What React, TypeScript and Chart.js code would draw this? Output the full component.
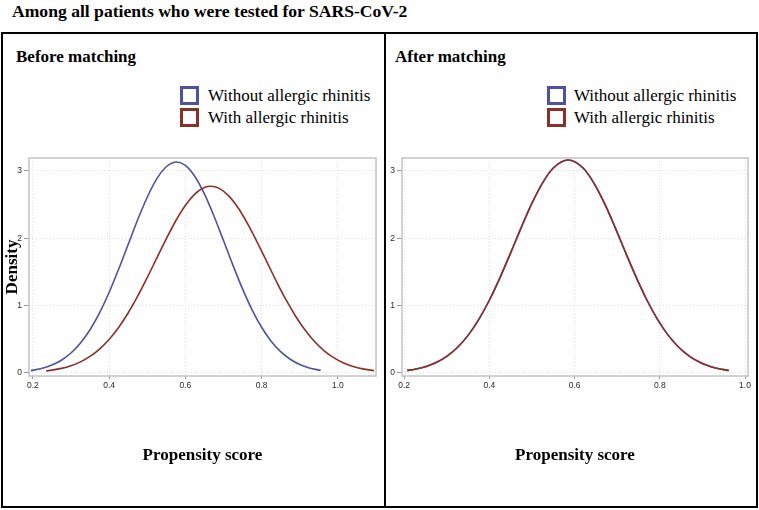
import React, { useEffect, useRef } from "react";
import { Chart, registerables } from "chart.js";

Chart.register(...registerables);

// ---- Data ----
const chartTitle = "Among all patients who were tested for SARS-CoV-2";
const panelTitles = ["Before matching", "After matching"];
const seriesLabels = ["Without allergic rhinitis", "With allergic rhinitis"];
const xAxisTitle = "Propensity score";
const yAxisTitle = "Density";

const xTicks = [0.2, 0.4, 0.6, 0.8, 1.0];
const yTicks = [0, 1, 2, 3];

// Before matching: without allergic rhinitis
const beforeWithoutX = [
  0.195, 0.225, 0.25, 0.275, 0.3, 0.325, 0.35, 0.375, 0.4, 0.425, 0.45, 0.475, 0.5, 0.525, 0.55,
  0.577, 0.6, 0.625, 0.65, 0.675, 0.7, 0.725, 0.75, 0.775, 0.8, 0.825, 0.85, 0.875, 0.9, 0.925, 0.955,
];
const beforeWithoutY = [
  0.035, 0.069, 0.117, 0.189, 0.296, 0.444, 0.641, 0.892, 1.194, 1.538, 1.906, 2.273, 2.608, 2.88, 3.06,
  3.13, 3.08, 2.916, 2.657, 2.329, 1.965, 1.596, 1.247, 0.937, 0.678, 0.472, 0.316, 0.204, 0.126, 0.075, 0.039,
];

// Before matching: with allergic rhinitis
const beforeWithX = [
  0.235, 0.25, 0.275, 0.3, 0.325, 0.35, 0.375, 0.4, 0.425, 0.45, 0.475, 0.5, 0.525, 0.55, 0.575, 0.6,
  0.625, 0.65, 0.667, 0.69, 0.715, 0.74, 0.765, 0.79, 0.815, 0.84, 0.865, 0.89, 0.915, 0.94, 0.965,
  0.99, 1.015, 1.04, 1.065, 1.095,
];
const beforeWithY = [
  0.031, 0.042, 0.068, 0.108, 0.165, 0.246, 0.355, 0.497, 0.675, 0.89, 1.139, 1.414, 1.704, 1.991, 2.259, 2.486,
  2.655, 2.751, 2.77, 2.735, 2.62, 2.436, 2.197, 1.923, 1.634, 1.346, 1.076, 0.835, 0.629, 0.459, 0.325,
  0.224, 0.149, 0.097, 0.061, 0.033,
];

// After matching (both groups overlap)
const afterX = [
  0.207, 0.225, 0.25, 0.275, 0.3, 0.325, 0.35, 0.375, 0.4, 0.425, 0.45, 0.475, 0.5, 0.525, 0.55, 0.585,
  0.62, 0.645, 0.67, 0.695, 0.72, 0.745, 0.77, 0.795, 0.82, 0.845, 0.87, 0.895, 0.92, 0.945, 0.962,
];
const afterWithoutY = [
  0.036, 0.054, 0.093, 0.155, 0.247, 0.378, 0.558, 0.792, 1.079, 1.415, 1.783, 2.161, 2.519, 2.822, 3.041, 3.16,
  3.041, 2.822, 2.519, 2.161, 1.783, 1.415, 1.079, 0.792, 0.558, 0.378, 0.247, 0.155, 0.093, 0.054, 0.036,
];
const afterWithY = [
  0.036, 0.054, 0.093, 0.155, 0.247, 0.378, 0.558, 0.792, 1.079, 1.415, 1.783, 2.161, 2.519, 2.822, 3.041, 3.16,
  3.041, 2.822, 2.519, 2.161, 1.783, 1.415, 1.079, 0.792, 0.558, 0.378, 0.247, 0.155, 0.093, 0.054, 0.036,
];

// ---- Styles ----
const BLUE = "#4e52a1";
const RED = "#8b3028";
const SERIF = '"Liberation Serif", "Times New Roman", serif';
const SANS = '"Liberation Sans", Arial, sans-serif';

const framePlugin = {
  id: "frameBox",
  beforeDatasetsDraw(chart: any) {
    const { ctx, chartArea: a } = chart;
    ctx.save();
    ctx.strokeStyle = "#c4c4c4";
    ctx.lineWidth = 1.5;
    ctx.strokeRect(a.left, a.top, a.right - a.left, a.bottom - a.top);
    ctx.restore();
  },
};

type PanelProps = {
  left: number;
  top: number;
  width: number;
  height: number;
  yAxisWidth: number;
  padRight: number;
  padTop: number;
  xAxisHeight: number;
  showYTitle: boolean;
  xMin: number;
  xMax: number;
  withoutX: number[];
  withoutY: number[];
  withX: number[];
  withY: number[];
};

function toPoints(xs: number[], ys: number[]) {
  return xs.map((x, i) => ({ x, y: ys[i] }));
}

function Panel(p: PanelProps) {
  const ref = useRef<HTMLCanvasElement>(null);
  useEffect(() => {
    if (!ref.current) return;
    const chart = new Chart(ref.current, {
      type: "line",
      data: {
        datasets: [
          {
            label: seriesLabels[0],
            data: toPoints(p.withoutX, p.withoutY),
            borderColor: BLUE,
            borderWidth: 1.6,
            pointRadius: 0,
            fill: false,
            cubicInterpolationMode: "monotone",
            order: 2,
          },
          {
            label: seriesLabels[1],
            data: toPoints(p.withX, p.withY),
            borderColor: RED,
            borderWidth: 1.6,
            pointRadius: 0,
            fill: false,
            cubicInterpolationMode: "monotone",
            order: 1,
          },
        ],
      },
      options: {
        responsive: false,
        animation: false,
        devicePixelRatio: 1,
        layout: { padding: { left: 0, right: p.padRight, top: p.padTop, bottom: 0 } },
        plugins: { legend: { display: false }, tooltip: { enabled: false }, title: { display: false } },
        scales: {
          x: {
            type: "linear",
            min: p.xMin,
            max: p.xMax,
            afterBuildTicks: (s: any) => {
              s.ticks = xTicks.map((v) => ({ value: v }));
            },
            afterFit: (s: any) => {
              s.height = p.xAxisHeight;
            },
            ticks: {
              autoSkip: false,
              maxRotation: 0,
              padding: 2,
              color: "#2a2a2a",
              font: { family: SANS, size: 8.5 },
              callback: (v: any) => Number(v).toFixed(1),
            },
            grid: { color: "#e2e2e2", tickColor: "#999", tickLength: 3, lineWidth: 1 },
            border: { display: false, dash: [1, 2] },
            title: {
              display: true,
              text: xAxisTitle,
              color: "#000",
              font: { family: SERIF, size: 17, weight: "bold", lineHeight: 1 },
              padding: { top: 0, bottom: 15.5 },
            },
          },
          y: {
            type: "linear",
            min: -0.045,
            max: 3.19,
            afterBuildTicks: (s: any) => {
              s.ticks = yTicks.map((v) => ({ value: v }));
            },
            afterFit: (s: any) => {
              s.width = p.yAxisWidth;
            },
            ticks: {
              autoSkip: false,
              padding: 2,
              color: "#2a2a2a",
              font: { family: SANS, size: 8.5 },
              callback: (v: any) => String(v),
            },
            grid: { color: "#e2e2e2", tickColor: "#999", tickLength: 5, lineWidth: 1 },
            border: { display: false, dash: [1, 2] },
            title: {
              display: p.showYTitle,
              text: yAxisTitle,
              color: "#000",
              font: { family: SERIF, size: 17, weight: "bold", lineHeight: 1 },
              padding: { top: 2, bottom: 0 },
            },
          },
        },
      } as any,
      plugins: [framePlugin],
    });
    return () => chart.destroy();
  }, []);
  return (
    <canvas
      ref={ref}
      width={p.width}
      height={p.height}
      style={{ position: "absolute", left: p.left, top: p.top, width: p.width, height: p.height }}
    />
  );
}

function Legend({ squareLeft, textLeft }: { squareLeft: number; textLeft: number }) {
  const colors = [BLUE, RED];
  const tops = [86, 108];
  return (
    <>
      {seriesLabels.map((lab, i) => (
        <React.Fragment key={lab}>
          <div
            style={{
              position: "absolute",
              left: squareLeft,
              top: tops[i],
              width: 19,
              height: 19,
              boxSizing: "border-box",
              border: `3px solid ${colors[i]}`,
            }}
          />
          <div
            style={{
              position: "absolute",
              left: textLeft,
              top: tops[i] + 1,
              fontFamily: SERIF,
              fontSize: 17,
              lineHeight: "17px",
              whiteSpace: "nowrap",
              color: "#000",
            }}
          >
            {lab}
          </div>
        </React.Fragment>
      ))}
    </>
  );
}

export default function App() {
  return (
    <div
      style={{
        position: "absolute",
        left: 0,
        top: 0,
        width: 759,
        height: 510,
        background: "#fff",
        overflow: "hidden",
        fontFamily: SERIF,
      }}
    >
      <div
        style={{
          position: "absolute",
          left: 12,
          top: 2.5,
          fontSize: 17.6,
          lineHeight: "17.6px",
          fontWeight: "bold",
          whiteSpace: "nowrap",
        }}
      >
        {chartTitle}
      </div>
      <div
        style={{
          position: "absolute",
          left: 1,
          top: 32,
          width: 757,
          height: 476,
          boxSizing: "border-box",
          border: "2px solid #000",
        }}
      />
      <div style={{ position: "absolute", left: 384, top: 32, width: 2, height: 476, background: "#000" }} />
      <div
        style={{
          position: "absolute",
          left: 16,
          top: 48,
          fontSize: 17,
          lineHeight: "17px",
          fontWeight: "bold",
          whiteSpace: "nowrap",
        }}
      >
        {panelTitles[0]}
      </div>
      <div
        style={{
          position: "absolute",
          left: 395,
          top: 48,
          fontSize: 17,
          lineHeight: "17px",
          fontWeight: "bold",
          whiteSpace: "nowrap",
        }}
      >
        {panelTitles[1]}
      </div>
      <Legend squareLeft={180} textLeft={208} />
      <Legend squareLeft={547} textLeft={574} />
      <Panel
        left={2}
        top={140}
        width={380}
        height={340}
        yAxisWidth={27}
        padRight={6}
        padTop={18}
        xAxisHeight={104}
        showYTitle={true}
        xMin={0.19}
        xMax={1.1}
        withoutX={beforeWithoutX}
        withoutY={beforeWithoutY}
        withX={beforeWithX}
        withY={beforeWithY}
      />
      <Panel
        left={387}
        top={140}
        width={366}
        height={340}
        yAxisWidth={15}
        padRight={5}
        padTop={18}
        xAxisHeight={104}
        showYTitle={false}
        xMin={0.195}
        xMax={1.007}
        withoutX={afterX}
        withoutY={afterWithoutY}
        withX={afterX}
        withY={afterWithY}
      />
    </div>
  );
}
